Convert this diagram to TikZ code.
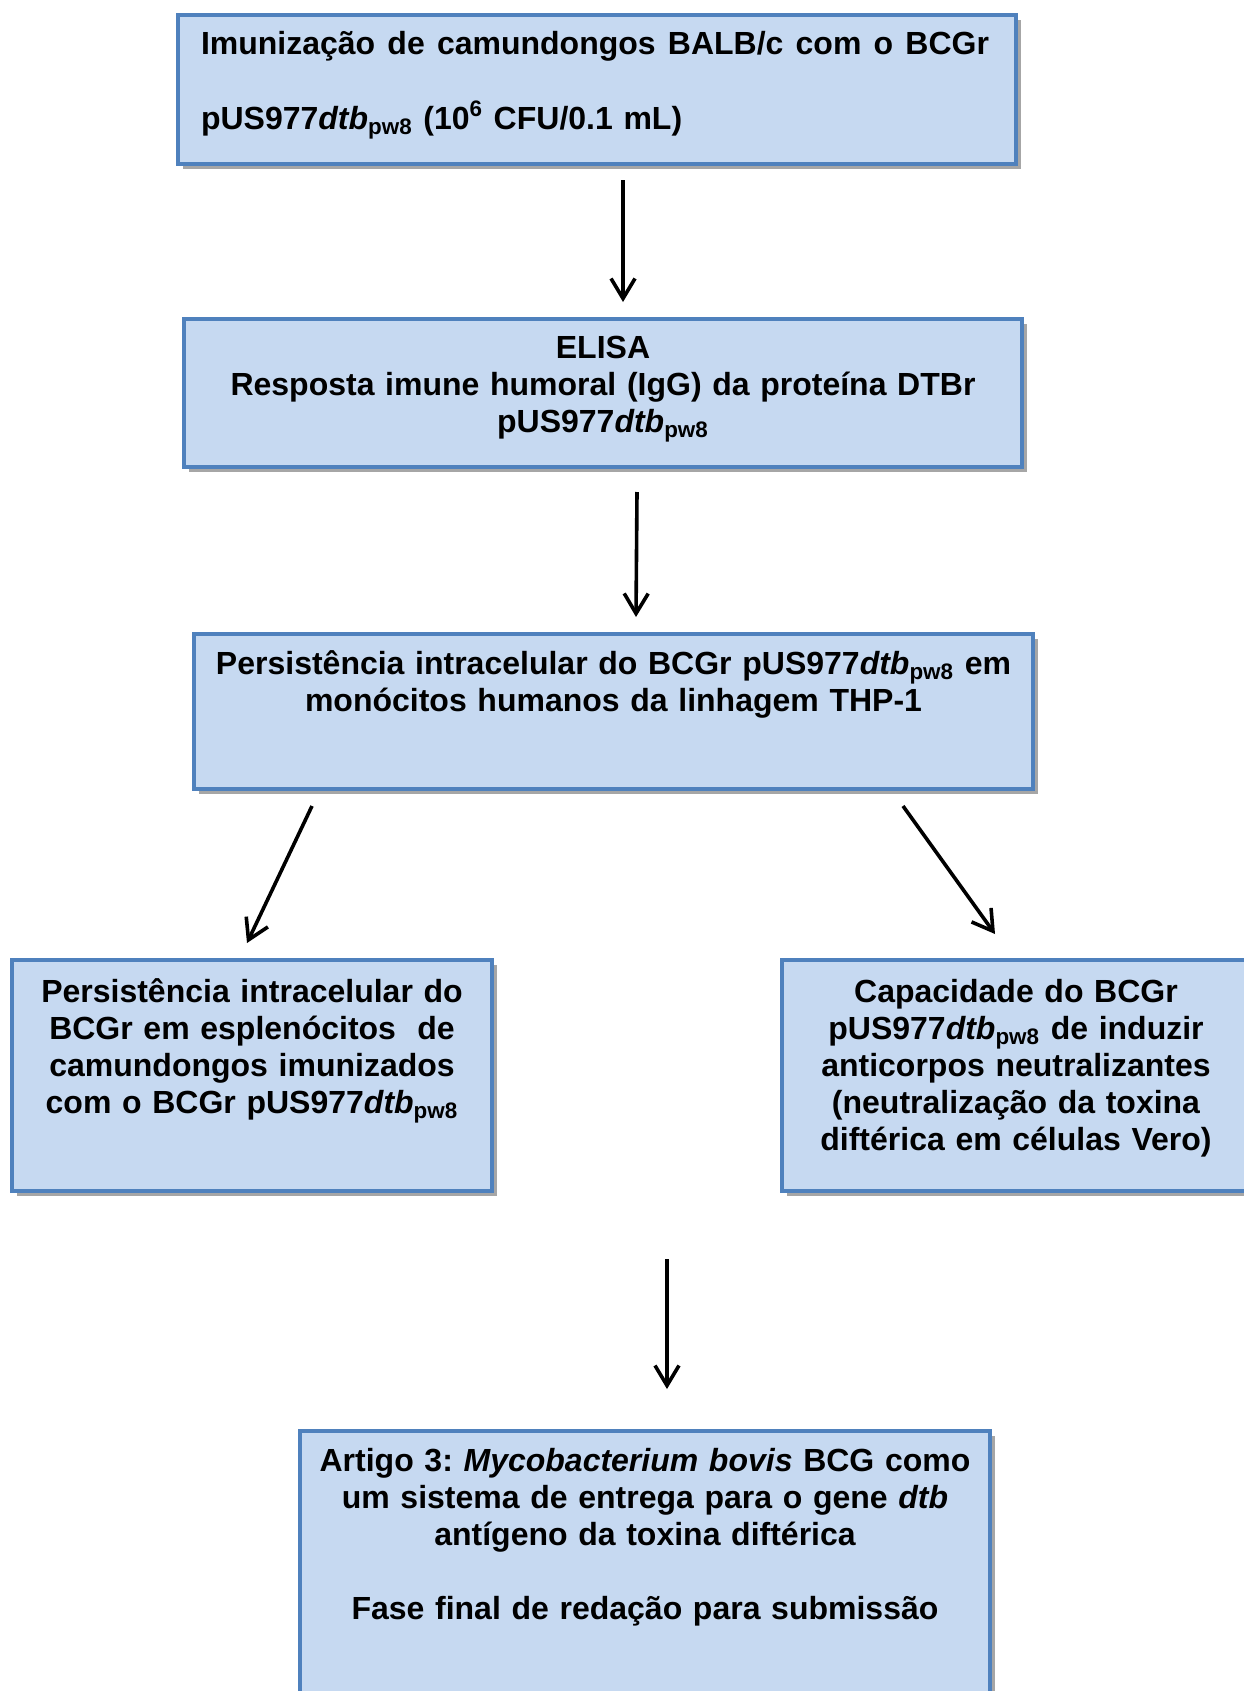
\documentclass[tikz,border=0pt]{standalone}
\usepackage{fontspec}
\setmainfont{Liberation Sans}
\usetikzlibrary{arrows.meta,shadows}

\definecolor{caixafundo}{HTML}{C6D9F1}
\definecolor{caixaborda}{HTML}{4F81BD}
\newcommand{\pusdtb}{pUS977\textit{dtb}\textsubscript{pw8}}
\frenchspacing

\tikzset{
  caixa/.style={draw=caixaborda, fill=caixafundo, line width=2pt,
    anchor=north west, inner sep=0pt, align=center,
    font=\fontsize{16}{18.6}\selectfont\bfseries,
    general shadow={fill=black!35, shadow xshift=2.5pt, shadow yshift=-2.5pt}},
  seta/.style={line width=1.8pt, -{Straight Barb[length=10pt,width=12pt]}}
}

\begin{document}
\begin{tikzpicture}[x=0.5pt,y=-0.5pt]
  \useasboundingbox (0,0) rectangle (1243,1691);

  \node[caixa, align=left, text width=396pt, inner xsep=11.5pt,
    text height=20pt, text depth=54.5pt,
    font=\fontsize{16}{37}\selectfont\bfseries] (imun) at (176,13)
    {\hbox to 394pt{Imunização\hfill de\hfill camundongos\hfill BALB/c\hfill com\hfill o\hfill BCGr}\\
     \pusdtb{} (10\textsuperscript{6} CFU/0.1 mL)};

  \node[caixa, text width=419pt, text height=19.5pt, text depth=54.5pt] (elisa) at (182,317)
    {ELISA\\Resposta imune humoral (IgG) da proteína DTBr\\\pusdtb};

  \node[caixa, text width=419.5pt, text height=20pt, text depth=57.5pt] (thp) at (192,632)
    {Persistência intracelular do BCGr \pusdtb{} em\\monócitos humanos da linhagem THP-1};

  \node[caixa, text width=240pt, text height=21pt, text depth=94.5pt] (espl) at (10,958)
    {Persistência intracelular do\\BCGr em esplenócitos~ de\\camundongos imunizados\\com o BCGr \pusdtb};

  \node[caixa, text width=234pt, text height=21pt, text depth=94.5pt] (vero) at (780,958)
    {Capacidade do BCGr\\\pusdtb{} de induzir\\anticorpos neutralizantes\\(neutralização da toxina\\diftérica em células Vero)};

  \node[caixa, text width=345pt, text height=20pt, text depth=130pt] (artigo) at (298,1429)
    {Artigo 3: \textit{Mycobacterium bovis} BCG como\\um sistema de entrega para o gene \textit{dtb}\\antígeno da toxina diftérica\\[18.5pt]Fase final de redação para submissão};

  \coordinate (meio) at (667,1259);

  % setas
  \draw[seta] ([xshift=13pt,yshift=-7pt]imun.south) -- ([xshift=10pt,yshift=7.5pt]elisa.north);
  \draw[seta] ([xshift=17pt,yshift=-11.5pt]elisa.south) -- ([xshift=11.25pt,yshift=7.5pt]thp.north);
  \draw[seta] ([xshift=-150.75pt,yshift=-7.5pt]thp.south) -- ([xshift=-2.5pt,yshift=7.5pt]espl.north);
  \draw[seta] ([xshift=144.75pt,yshift=-7.5pt]thp.south) -- ([xshift=-10.5pt,yshift=12pt]vero.north);
  \draw[seta] (meio) -- ([xshift=11pt,yshift=20pt]artigo.north);
\end{tikzpicture}
\end{document}
